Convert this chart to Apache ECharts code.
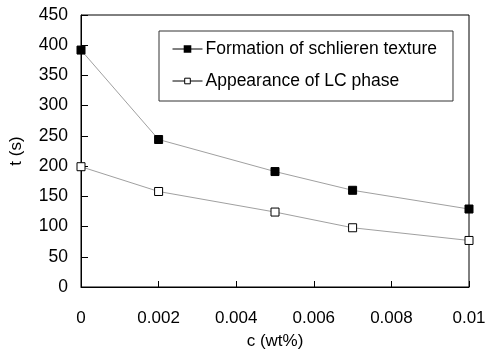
<!DOCTYPE html>
<html><head><meta charset="utf-8">
<script src="https://cdn.jsdelivr.net/npm/echarts@6/dist/echarts.min.js"></script>
<style>html,body{margin:0;padding:0;background:#fff}#c{width:486px;height:350px}</style>
</head><body><div id="c"></div>
<script>
const concentrations = [0, 0.002, 0.005, 0.007, 0.01];
const schlieren = [392, 244, 191, 160, 129];
const lcPhase = [199, 158, 124, 98, 77];
const seriesNames = ['Formation of schlieren texture', 'Appearance of LC phase'];
const font = 'Liberation Sans, Arial, Helvetica, sans-serif';

const chart = echarts.init(document.getElementById('c'), null, {renderer: 'canvas'});
chart.setOption({
  animation: false,
  backgroundColor: '#fff',
  grid: {left: 81, right: 17, top: 15, bottom: 63, show: true, borderColor: '#000', borderWidth: 1,
    containLabel: false, outerBoundsMode: 'none'},
  legend: {
    orient: 'vertical', left: 159, top: 31,
    padding: [9, 16, 11, 13],
    itemGap: 14, itemWidth: 30, itemHeight: 7,
    borderColor: '#333', borderWidth: 1,
    textStyle: {fontFamily: font, fontSize: 17.5, color: '#000', padding: [0,0,0,-2]},
    data: [
      {name: seriesNames[0], itemStyle: {color: '#000', borderColor: '#000'}, lineStyle: {color: '#000', width: 1}},
      {name: seriesNames[1], itemStyle: {color: '#fff', borderColor: '#000', borderWidth: 1}, lineStyle: {color: '#000', width: 1}}
    ]
  },
  xAxis: {
    type: 'value', min: 0, max: 0.01, interval: 0.002,
    name: 'c (wt%)', nameLocation: 'middle', nameGap: 46,
    nameTextStyle: {fontFamily: font, fontSize: 17, color: '#000'},
    axisLine: {lineStyle: {color: '#000', width: 1}},
    axisTick: {inside: true, length: 6, lineStyle: {color: '#000'}},
    splitLine: {show: false},
    axisLabel: {fontFamily: font, fontSize: 17, color: '#000', margin: 23,
      formatter: v => String(+v.toFixed(3))}
  },
  yAxis: {
    type: 'value', min: 0, max: 450, interval: 50,
    name: 't (s)', nameLocation: 'middle', nameGap: 56,
    nameTextStyle: {fontFamily: font, fontSize: 17, color: '#000'},
    axisLine: {show: true, lineStyle: {color: '#000', width: 1}},
    axisTick: {show: true, inside: true, length: 7, lineStyle: {color: '#000'}},
    splitLine: {show: false},
    axisLabel: {fontFamily: font, fontSize: 17.5, color: '#000', margin: 13}
  },
  series: [
    {
      name: seriesNames[0], type: 'line',
      data: concentrations.map((c, i) => [c, schlieren[i]]),
      symbol: 'rect', symbolSize: 8,
      lineStyle: {color: '#a0a0a0', width: 1},
      itemStyle: {color: '#000', borderColor: '#000', borderWidth: 1}
    },
    {
      name: seriesNames[1], type: 'line',
      data: concentrations.map((c, i) => [c, lcPhase[i]]),
      symbol: 'rect', symbolSize: 8,
      lineStyle: {color: '#a0a0a0', width: 1},
      itemStyle: {color: '#fff', borderColor: '#000', borderWidth: 1}
    }
  ]
});
</script></body></html>
